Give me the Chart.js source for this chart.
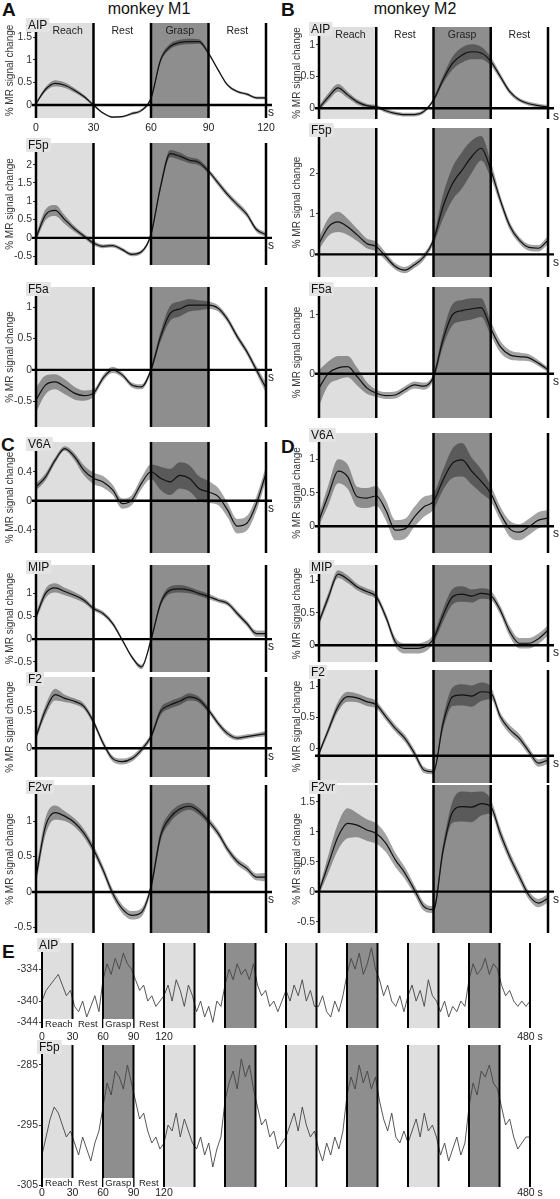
<!DOCTYPE html>
<html>
<head>
<meta charset="utf-8">
<script src="https://cdn.jsdelivr.net/npm/chart.js@4.4.1/dist/chart.umd.min.js"></script>
<style>
body{margin:0;background:#fff;font-family:"Liberation Sans",Arial,sans-serif;}
#fig{position:relative;width:560px;height:1199px;overflow:hidden;}
#fig canvas{position:absolute;}
.txt{position:absolute;color:#111;white-space:nowrap;line-height:1;}
.big{font-weight:bold;font-size:19px;}
.ttl{font-size:16px;text-align:center;width:120px;}
</style>
</head>
<body>
<div id="fig">
<div class="txt big" style="left:2px;top:0px">A</div>
<div class="txt ttl" style="left:89px;top:1px">monkey M1</div>
<div class="txt big" style="left:281px;top:0px">B</div>
<div class="txt ttl" style="left:355px;top:1px">monkey M2</div>
<div class="txt big" style="left:1px;top:435px">C</div>
<div class="txt big" style="left:281px;top:437px">D</div>
<div class="txt big" style="left:2px;top:942px">E</div>
</div>
<script>
// seconds within one cycle (5 s steps)
var tSec = [0,5,10,15,20,25,30,35,40,45,50,55,60,65,70,75,80,85,90,95,100,105,110,115,120];

// monkey M1 (mean, s.e.)
var m1AIP = [0.03,0.35,0.48,0.44,0.33,0.19,0.0,-0.18,-0.27,-0.26,-0.19,-0.12,0.15,1.0,1.3,1.39,1.41,1.41,1.15,0.78,0.44,0.3,0.24,0.16,0.16];
var m1AIPse = [0.03,0.05,0.07,0.06,0.05,0.04,0.03,0.02,0.02,0.02,0.03,0.03,0.04,0.05,0.06,0.06,0.06,0.05,0.04,0.03,0.03,0.03,0.03,0.03,0.03];
var m1F5p = [0.0,0.63,0.75,0.5,0.25,0.05,-0.14,-0.23,-0.21,-0.32,-0.45,-0.38,0.1,1.4,2.3,2.23,2.12,2.06,1.82,1.5,1.18,0.91,0.64,0.23,0.09];
var m1F5pse = [0.1,0.15,0.15,0.12,0.08,0.06,0.06,0.05,0.05,0.05,0.05,0.05,0.06,0.1,0.1,0.1,0.08,0.08,0.07,0.08,0.08,0.08,0.08,0.07,0.06];
var m1F5a = [-0.48,-0.24,-0.19,-0.27,-0.37,-0.41,-0.37,-0.13,0.0,-0.08,-0.24,-0.27,0.0,0.53,0.9,0.97,1.03,1.03,1.03,0.98,0.8,0.53,0.29,0.0,-0.29];
var m1F5ase = [0.2,0.15,0.12,0.12,0.1,0.08,0.06,0.05,0.05,0.04,0.04,0.04,0.05,0.08,0.12,0.12,0.1,0.08,0.06,0.05,0.05,0.05,0.05,0.06,0.08];
var m1V6A = [0.19,0.33,0.56,0.72,0.61,0.42,0.31,0.26,0.15,-0.04,0.01,0.24,0.4,0.31,0.26,0.35,0.31,0.17,0.12,0.06,-0.13,-0.35,-0.31,-0.04,0.38];
var m1V6Ase = [0.05,0.05,0.04,0.03,0.05,0.07,0.08,0.08,0.07,0.07,0.07,0.08,0.1,0.16,0.18,0.18,0.18,0.17,0.15,0.12,0.1,0.1,0.1,0.1,0.1];
var m1MIP = [0.49,1.0,1.12,1.04,0.96,0.85,0.67,0.56,0.34,-0.02,-0.39,-0.61,-0.02,0.78,1.07,1.1,1.07,1.0,0.93,0.85,0.78,0.56,0.34,0.12,0.12];
var m1MIPse = [0.08,0.1,0.1,0.08,0.07,0.06,0.05,0.05,0.05,0.04,0.04,0.05,0.05,0.07,0.08,0.08,0.07,0.06,0.06,0.05,0.05,0.06,0.06,0.07,0.07];
var m1F2 = [0.16,0.52,0.73,0.68,0.64,0.57,0.36,0.07,-0.14,-0.18,-0.14,-0.02,0.16,0.5,0.59,0.64,0.7,0.66,0.52,0.34,0.2,0.14,0.16,0.18,0.2];
var m1F2se = [0.05,0.07,0.08,0.05,0.04,0.04,0.04,0.04,0.04,0.04,0.04,0.04,0.04,0.05,0.05,0.05,0.05,0.04,0.04,0.04,0.04,0.03,0.03,0.03,0.04];
var m1F2vr = [0.21,0.93,1.12,1.07,0.98,0.83,0.6,0.31,-0.02,-0.24,-0.33,-0.29,0.07,0.79,1.05,1.17,1.21,1.14,1.0,0.83,0.6,0.43,0.33,0.21,0.21];
var m1F2vrse = [0.1,0.12,0.1,0.07,0.06,0.06,0.06,0.06,0.06,0.06,0.06,0.06,0.06,0.07,0.07,0.06,0.05,0.05,0.05,0.05,0.05,0.05,0.05,0.05,0.06];

// monkey M2 (mean, s.e.)
var m2AIP = [0.0,0.18,0.32,0.21,0.1,0.04,0.02,-0.04,-0.08,-0.1,-0.1,-0.05,0.13,0.45,0.71,0.84,0.89,0.87,0.74,0.5,0.26,0.13,0.07,0.04,0.02];
var m2AIPse = [0.04,0.06,0.06,0.05,0.04,0.03,0.03,0.03,0.03,0.03,0.03,0.03,0.03,0.06,0.1,0.12,0.12,0.1,0.07,0.05,0.04,0.03,0.03,0.03,0.03];
var m2F5p = [0.27,0.68,0.8,0.68,0.48,0.27,0.19,-0.06,-0.3,-0.39,-0.26,-0.06,0.35,1.18,1.75,2.08,2.41,2.62,2.09,1.34,0.7,0.35,0.17,0.15,0.35];
var m2F5pse = [0.15,0.22,0.25,0.2,0.15,0.12,0.12,0.1,0.08,0.08,0.08,0.08,0.1,0.3,0.4,0.45,0.4,0.3,0.2,0.12,0.1,0.08,0.08,0.08,0.1];
var m2F5a = [-0.24,0.01,0.1,0.12,-0.05,-0.24,-0.33,-0.37,-0.36,-0.27,-0.19,-0.21,-0.05,0.58,1.0,1.07,1.1,1.12,0.77,0.46,0.32,0.29,0.27,0.18,0.07];
var m2F5ase = [0.3,0.2,0.2,0.18,0.15,0.1,0.06,0.06,0.06,0.06,0.06,0.06,0.06,0.12,0.18,0.18,0.18,0.16,0.12,0.1,0.08,0.07,0.06,0.05,0.04];
var m2V6A = [0.09,0.47,0.82,0.74,0.44,0.42,0.45,0.24,-0.06,-0.04,0.14,0.29,0.37,0.69,0.94,0.99,0.82,0.67,0.49,0.19,-0.04,-0.09,-0.01,0.09,0.12];
var m2V6Ase = [0.08,0.15,0.18,0.18,0.15,0.15,0.15,0.15,0.15,0.15,0.15,0.15,0.12,0.15,0.22,0.25,0.2,0.18,0.12,0.1,0.12,0.12,0.12,0.12,0.12];
var m2MIP = [0.36,0.75,1.1,1.02,0.9,0.83,0.75,0.44,0.05,-0.05,-0.05,-0.03,0.1,0.46,0.75,0.79,0.76,0.8,0.77,0.54,0.21,0.03,0.03,0.1,0.23];
var m2MIPse = [0.05,0.07,0.06,0.06,0.05,0.05,0.05,0.06,0.07,0.08,0.08,0.08,0.07,0.1,0.12,0.12,0.1,0.08,0.07,0.07,0.08,0.08,0.08,0.08,0.08];
var m2F2 = [-0.08,0.3,0.67,0.83,0.81,0.75,0.7,0.51,0.32,0.16,-0.08,-0.35,-0.38,0.4,0.83,0.86,0.84,0.91,0.89,0.51,0.3,0.16,-0.05,-0.24,-0.19];
var m2F2se = [0.04,0.06,0.08,0.08,0.07,0.07,0.06,0.06,0.06,0.06,0.06,0.05,0.04,0.1,0.15,0.17,0.17,0.15,0.1,0.07,0.07,0.07,0.06,0.06,0.06];
var m2F2vr = [0.0,0.47,0.92,1.14,1.11,1.03,0.97,0.81,0.53,0.31,0.03,-0.25,-0.3,0.69,1.33,1.42,1.41,1.47,1.42,0.97,0.58,0.25,-0.06,-0.19,-0.11];
var m2F2vrse = [0.05,0.15,0.22,0.25,0.2,0.18,0.17,0.15,0.12,0.1,0.08,0.07,0.06,0.1,0.18,0.25,0.25,0.2,0.12,0.1,0.08,0.08,0.07,0.07,0.07];

// single run, 4 s samples over 480 s
var runAIP = [-340,-338,-337,-336,-335,-337,-339,-338,-341,-342,-340,-343,-341,-339,-342,-336,-333,-335,-332,-334,-331,-333,-334,-336,-338,-337,-340,-339,-341,-340,
	-339,-337,-340,-336,-338,-341,-337,-339,-342,-340,-343,-341,-344,-340,-341,-337,-334,-336,-333,-335,-334,-336,-333,-337,-339,-338,-341,-340,-342,-340,
	-338,-340,-337,-339,-336,-340,-338,-341,-341,-339,-342,-343,-340,-342,-339,-335,-332,-334,-331,-335,-333,-330,-334,-336,-339,-337,-340,-341,-339,-342,
	-339,-337,-340,-338,-341,-336,-339,-340,-342,-340,-343,-341,-342,-340,-341,-336,-333,-335,-334,-332,-335,-333,-334,-337,-339,-338,-340,-341,-340,-341,-340];
var runF5p = [-300,-297,-294,-292,-293,-295,-297,-296,-298,-300,-297,-299,-301,-298,-296,-292,-288,-290,-286,-287,-289,-285,-288,-291,-294,-293,-296,-298,-297,-299,
	-298,-295,-296,-293,-297,-294,-296,-298,-299,-297,-300,-298,-302,-299,-297,-291,-288,-286,-289,-284,-287,-285,-289,-292,-295,-294,-297,-296,-299,-298,
	-297,-295,-293,-296,-292,-295,-297,-296,-299,-301,-298,-300,-297,-299,-296,-290,-287,-289,-285,-288,-286,-289,-287,-291,-294,-296,-293,-297,-298,-296,
	-298,-296,-294,-297,-293,-296,-295,-297,-300,-298,-301,-299,-297,-300,-298,-292,-288,-290,-286,-287,-285,-288,-289,-292,-295,-294,-297,-299,-298,-297,-297];

var epochNames = ['Reach','Rest','Grasp','Rest'];
var epochMid = [16.5,45,75,105];
var cycleLines = [0,30,60,90,120];
var runLines = [0,30,60,90,120,150,180,210,240,270,300,330,360,390,420,450,480];
var runTicks = [0,30,60,90,120,480];
var runReach = [[0,30],[120,150],[240,270],[360,390]];
var runGrasp = [[60,90],[180,210],[300,330],[420,450]];

var reachCol = '#dedede', graspCol = '#8e8e8e', bandCol = 'rgba(0,0,0,0.36)';
var fontFam = '"Liberation Sans", Arial, sans-serif';
Chart.defaults.font.family = fontFam;

var cols = [
	{x0: 36, x1: 266, yW: 36, sDx: 2},
	{x0: 319, x1: 548, yW: 32, sDx: 5},
	{x0: 42, x1: 530, yW: 42, sDx: 0}
];

var fig = document.getElementById('fig');

function bandSets(mean, se){
	var up = [], lo = [], mid = [];
	for(var i = 0; i < mean.length; i++){
		mid.push({x: tSec[i], y: mean[i]});
		up.push({x: tSec[i], y: mean[i] + se[i]});
		lo.push({x: tSec[i], y: mean[i] - se[i]});
	}
	return [
		{data: mid, borderColor: '#111', borderWidth: 1.2, pointRadius: 0, fill: false, cubicInterpolationMode: 'monotone'},
		{data: up, borderColor: 'rgba(0,0,0,0)', borderWidth: 0, pointRadius: 0, fill: '+1', backgroundColor: bandCol, cubicInterpolationMode: 'monotone'},
		{data: lo, borderColor: 'rgba(0,0,0,0)', borderWidth: 0, pointRadius: 0, fill: false, cubicInterpolationMode: 'monotone'}
	];
}

function runSet(vals){
	var pts = [];
	for(var i = 0; i < vals.length; i++){
		pts.push({x: i * 4, y: vals[i]});
	}
	return [{data: pts, borderColor: '#444', borderWidth: 0.9, pointRadius: 0, fill: false, tension: 0}];
}

function epochLayer(p, c){
	return {
		id: 'epochs',
		beforeDatasetsDraw: function(chart){
			var ctx = chart.ctx, a = chart.chartArea, x = chart.scales.x;
			ctx.save();
			function shade(list, col){
				list.forEach(function(b){
					var l = x.getPixelForValue(b[0]), r = x.getPixelForValue(b[1]);
					ctx.fillStyle = col;
					ctx.fillRect(l, a.top, r - l, a.bottom - a.top);
				});
			}
			shade(p.reach, reachCol);
			shade(p.grasp, graspCol);
			ctx.restore();
		},
		afterDatasetsDraw: function(chart){
			var ctx = chart.ctx, a = chart.chartArea, x = chart.scales.x, y = chart.scales.y;
			ctx.save();
			ctx.strokeStyle = '#000';
			ctx.lineWidth = p.lineW || 2.5;
			p.lines.forEach(function(v){
				var px = x.getPixelForValue(v);
				ctx.beginPath();
				ctx.moveTo(px, a.top);
				ctx.lineTo(px, a.bottom);
				ctx.stroke();
			});
			if(p.baseline !== null){
				var py = y.getPixelForValue(p.baseline);
				ctx.lineWidth = 2.4;
				ctx.beginPath();
				ctx.moveTo(a.left - 4, py);
				ctx.lineTo(a.right + 6, py);
				ctx.stroke();
				ctx.fillStyle = '#222';
				ctx.font = '12px ' + fontFam;
				ctx.textAlign = 'left';
				ctx.textBaseline = 'middle';
				ctx.fillText('s', a.right + c.sDx, py + 8);
			}
			ctx.textAlign = 'center';
			ctx.textBaseline = 'middle';
			if(p.epochTop){
				ctx.font = '10.5px ' + fontFam;
				ctx.fillStyle = '#222';
				epochNames.forEach(function(n, i){
					ctx.fillText(n, x.getPixelForValue(epochMid[i]), a.top + 8);
				});
			}
			if(p.epochBottom){
				ctx.font = '9.5px ' + fontFam;
				epochNames.forEach(function(n, i){
					var cx = x.getPixelForValue(epochMid[i]), w = ctx.measureText(n).width + 4;
					ctx.fillStyle = '#fff';
					ctx.fillRect(cx - w / 2, a.bottom - 9, w, 10);
					ctx.fillStyle = '#222';
					ctx.fillText(n, cx, a.bottom - 4);
				});
			}
			// area name tag
			ctx.font = '12px ' + fontFam;
			ctx.textAlign = 'left';
			var tw = ctx.measureText(p.label).width;
			var bx = a.left + p.labelDx, by = a.top - 5;
			ctx.fillStyle = '#e4e4e4';
			ctx.fillRect(bx, by, tw + 4, 14);
			ctx.fillStyle = '#111';
			ctx.fillText(p.label, bx + 2, by + 7.5);
			ctx.restore();
		}
	};
}

function drawPanel(p){
	var c = cols[p.col];
	var padTop = 14, padBot = 10, padR = p.padR || 16;
	var hasX = !!p.xTicks;
	var w = c.yW + (c.x1 - c.x0) + padR;
	var h = padTop + (p.bot - p.top) + (hasX ? p.xH : padBot);
	var cv = document.createElement('canvas');
	cv.width = w;
	cv.height = h;
	cv.style.left = (c.x0 - c.yW) + 'px';
	cv.style.top = (p.top - padTop) + 'px';
	fig.appendChild(cv);

	new Chart(cv, {
		type: 'line',
		data: {datasets: p.run ? runSet(p.run) : bandSets(p.mean, p.se)},
		options: {
			responsive: false,
			animation: false,
			devicePixelRatio: 1,
			layout: {padding: {left: 0, right: padR, top: padTop, bottom: hasX ? 0 : padBot}},
			plugins: {legend: {display: false}, tooltip: {enabled: false}},
			scales: {
				x: {
					type: 'linear',
					min: 0,
					max: p.xmax,
					display: hasX,
					grid: {display: false, drawTicks: false},
					border: {display: false},
					afterBuildTicks: function(s){
						if(hasX) s.ticks = p.xTicks.map(function(v){ return {value: v}; });
					},
					afterFit: function(s){
						if(hasX) s.height = p.xH;
					},
					ticks: {
						autoSkip: false,
						maxRotation: 0,
						padding: p.xPad || 0,
						font: {size: 10.5},
						color: '#222',
						callback: function(v){ return v === 480 ? '480 s' : String(v); }
					}
				},
				y: {
					min: p.min,
					max: p.max,
					afterBuildTicks: function(s){
						s.ticks = p.ticks.map(function(v){ return {value: v}; });
					},
					afterFit: function(s){
						s.width = c.yW;
					},
					grid: {drawOnChartArea: false, drawTicks: true, tickLength: 3, color: '#333'},
					border: {display: false},
					ticks: {
						padding: 1,
						font: {size: 10.5},
						color: '#333',
						callback: function(v){ return String(v); }
					},
					title: {
						display: !p.run,
						text: '% MR signal change',
						font: {size: 10},
						color: '#333',
						padding: {top: 4, bottom: 0}
					}
				}
			}
		},
		plugins: [epochLayer(p, c)]
	});
}

var one = {reach: [[0,30]], grasp: [[60,90]], lines: cycleLines};

var panels = [
	{col: 0, label: 'AIP', mean: m1AIP, se: m1AIPse, top: 23, bot: 118, min: -0.289, max: 1.822, ticks: [0,0.5,1,1.5], baseline: 0, epochTop: true, xTicks: cycleLines, xH: 18, xPad: 4},
	{col: 0, label: 'F5p', mean: m1F5p, se: m1F5pse, top: 143, bot: 265, min: -0.74, max: 2.59, ticks: [-0.5,0,0.5,1,1.5,2], baseline: 0},
	{col: 0, label: 'F5a', mean: m1F5a, se: m1F5ase, top: 287, bot: 427, min: -0.91, max: 1.32, ticks: [-0.5,0,0.5,1], baseline: 0},
	{col: 0, label: 'V6A', mean: m1V6A, se: m1V6Ase, top: 442, bot: 553, min: -0.72, max: 0.81, ticks: [-0.4,0,0.4], baseline: 0},
	{col: 0, label: 'MIP', mean: m1MIP, se: m1MIPse, top: 565, bot: 672, min: -0.72, max: 1.62, ticks: [-0.5,0,0.5,1], baseline: 0},
	{col: 0, label: 'F2', mean: m1F2, se: m1F2se, top: 677, bot: 777, min: -0.39, max: 0.97, ticks: [0,0.5], baseline: 0},
	{col: 0, label: 'F2vr', mean: m1F2vr, se: m1F2vrse, top: 785, bot: 933, min: -0.58, max: 1.51, ticks: [-0.5,0,0.5,1], baseline: 0},
	{col: 1, label: 'AIP', mean: m2AIP, se: m2AIPse, top: 27, bot: 119, min: -0.17, max: 1.28, ticks: [0,0.5,1], baseline: 0, epochTop: true},
	{col: 1, label: 'F5p', mean: m2F5p, se: m2F5pse, top: 128, bot: 277, min: -0.56, max: 3.12, ticks: [0,1,2], baseline: 0},
	{col: 1, label: 'F5a', mean: m2F5a, se: m2F5ase, top: 287, bot: 418, min: -0.75, max: 1.47, ticks: [0,1], baseline: 0},
	{col: 1, label: 'V6A', mean: m2V6A, se: m2V6Ase, top: 433, bot: 553, min: -0.40, max: 1.39, ticks: [0,0.5,1], baseline: 0},
	{col: 1, label: 'MIP', mean: m2MIP, se: m2MIPse, top: 565, bot: 662, min: -0.26, max: 1.24, ticks: [0,0.5,1], baseline: 0},
	{col: 1, label: 'F2', mean: m2F2, se: m2F2se, top: 670, bot: 783, min: -0.56, max: 1.26, ticks: [0,0.5,1], baseline: -0.12},
	{col: 1, label: 'F2vr', mean: m2F2vr, se: m2F2vrse, top: 785, bot: 933, min: -0.69, max: 1.78, ticks: [-0.5,0,0.5,1,1.5], baseline: 0}
];

panels.forEach(function(p){
	p.reach = one.reach;
	p.grasp = one.grasp;
	p.lines = one.lines;
	p.xmax = 120;
	p.labelDx = -10;
	drawPanel(p);
});

var runs = [
	{col: 2, label: 'AIP', run: runAIP, top: 943, bot: 1028, min: -345.06, max: -329.1, ticks: [-344,-340,-334], xH: 15, xPad: 3},
	{col: 2, label: 'F5p', run: runF5p, top: 1045, bot: 1187, min: -305.33, max: -281.67, ticks: [-305,-295,-285], xH: 12, xPad: 0}
];

runs.forEach(function(p){
	p.reach = runReach;
	p.grasp = runGrasp;
	p.lines = runLines;
	p.lineW = 2;
	p.baseline = null;
	p.epochBottom = true;
	p.xTicks = runTicks;
	p.xmax = 480;
	p.labelDx = -5;
	p.padR = 22;
	drawPanel(p);
});
</script>
</body>
</html>
